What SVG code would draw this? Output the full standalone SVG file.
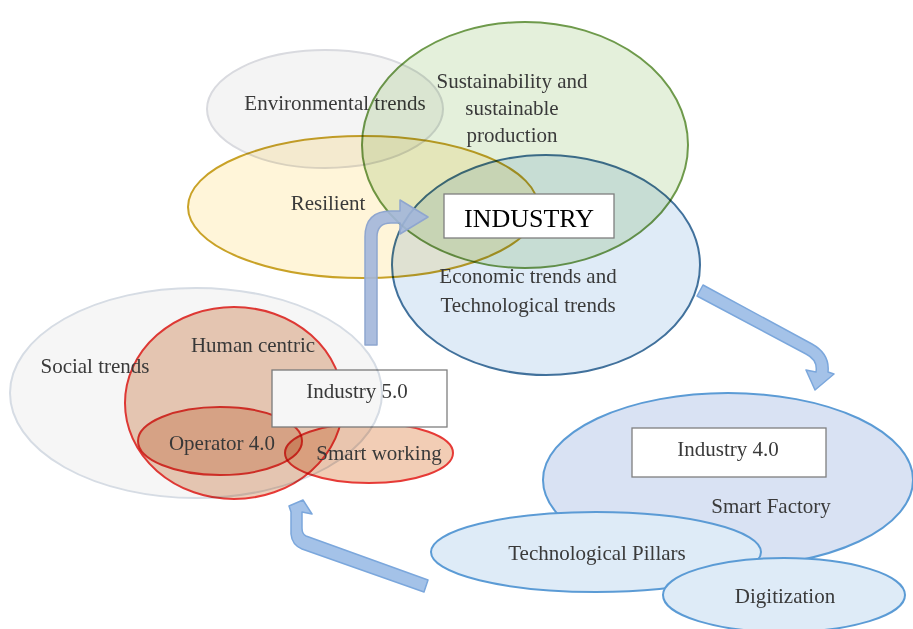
<svg xmlns="http://www.w3.org/2000/svg" width="913" height="629" viewBox="0 0 913 629">
<style>
text{font-family:"Liberation Serif","Times New Roman",serif;font-size:21px;fill:#3a3a3a;text-anchor:middle}
.box{fill:#fff;stroke:#7f7f7f;stroke-width:1.3}
.red{stroke:#e63a36;stroke-width:2}
.b4{stroke:#5b9bd5;stroke-width:2}
.mul{mix-blend-mode:multiply}
</style>
<rect width="913" height="629" fill="#fff"/>
<g id="environmental">
<ellipse class="mul" cx="325" cy="109" rx="118" ry="59" fill="#f4f4f4" stroke="#d9dadf" stroke-width="2"/>
<text x="335" y="110">Environmental trends</text>
</g>
<g id="resilient">
<ellipse class="mul" cx="363" cy="207" rx="175" ry="71" fill="#fff5d9" stroke="#c9a227" stroke-width="2"/>
<text x="328" y="210">Resilient</text>
</g>
<g id="sustainability">
<ellipse class="mul" cx="525" cy="145" rx="163" ry="123" fill="#e4f0db" stroke="#6e9a4b" stroke-width="2"/>
<text x="512" y="88">Sustainability and</text>
<text x="512" y="115">sustainable</text>
<text x="512" y="142">production</text>
</g>
<g id="economic">
<ellipse class="mul" cx="546" cy="265" rx="154" ry="110" fill="#dfebf7" stroke="#41719c" stroke-width="2"/>
<text x="528" y="283">Economic trends and</text>
<text x="528" y="312">Technological trends</text>
</g>
<g id="industry">
<rect class="box" x="444" y="194" width="170" height="44"/>
<text x="529" y="227" style="font-size:26px;fill:#000">INDUSTRY</text>
</g>
<g id="human-centric">
<ellipse class="red" cx="234" cy="403" rx="109" ry="96" fill="#edcdb8"/>
<text x="253" y="352">Human centric</text>
</g>
<g id="operator">
<ellipse class="red mul" cx="220" cy="441" rx="82" ry="34" fill="#efd1bf"/>
<text x="222" y="450">Operator 4.0</text>
</g>
<g id="smart-working">
<ellipse class="red mul" cx="369" cy="453" rx="84" ry="30" fill="#f2cdb5"/>
<text x="379" y="460">Smart working</text>
</g>
<g id="industry-5">
<rect class="box" x="272" y="370" width="175" height="57"/>
<text x="357" y="398">Industry 5.0</text>
</g>
<g id="social">
<ellipse class="mul" cx="196" cy="393" rx="186" ry="105" fill="#f6f6f6" stroke="#d6dce4" stroke-width="2"/>
<text x="95" y="373">Social trends</text>
</g>
<g id="industry-4">
<ellipse class="b4" cx="728" cy="480" rx="185" ry="87" fill="#d9e2f3"/>
<rect class="box" x="632" y="428" width="194" height="49"/>
<text x="728" y="456">Industry 4.0</text>
<text x="771" y="513">Smart Factory</text>
</g>
<g id="pillars">
<ellipse class="b4" cx="596" cy="552" rx="165" ry="40" fill="#deebf7"/>
<text x="597" y="560">Technological Pillars</text>
</g>
<g id="digitization">
<ellipse class="b4" cx="784" cy="595" rx="121" ry="37" fill="#deebf7"/>
<text x="785" y="603">Digitization</text>
</g>
<g id="connectors" stroke-linejoin="round">
<path d="M365,345 L365,237 Q365,211 391,211 L400,211 L400,200 L428,217 L400,234 L400,223 L391,223 Q377,223 377,237 L377,345 Z" fill="#a2b6da" fill-opacity="0.9" stroke="#8fa6cf" stroke-width="1.5"/>
<path d="M703,285 L812,344 Q830,354 828,372 L834,374 L815,390 L806,370 L816,372 Q818,360 806,354 L697,296 Z" fill="#a4c2e8" stroke="#7ba7dc" stroke-width="1.5"/>
<path d="M428,580 L306,536 Q302,534 302,528 L302,512 L312,514 L303,500 L289,506 L291,512 L291,534 Q292,545 302,549 L424,592 Z" fill="#a4c2e8" stroke="#7ba7dc" stroke-width="1.5"/>
</g>
</svg>
